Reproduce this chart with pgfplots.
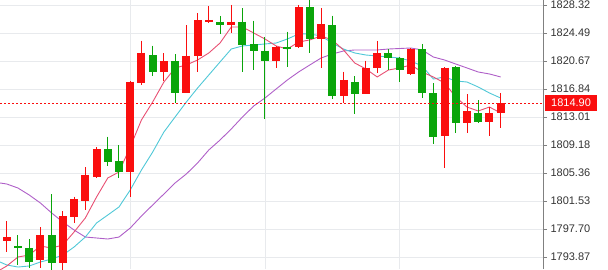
\documentclass[border=0pt]{standalone}
\usepackage{fontspec}
\setmainfont{Liberation Sans}
\usepackage{pgfplots}
\pgfplotsset{compat=1.18}
\usepackage{pgfplotstable}
\definecolor{cred}{RGB}{250,14,14}
\definecolor{cgreen}{RGB}{10,165,10}
\definecolor{mapink}{RGB}{232,80,115}
\definecolor{macyan}{RGB}{80,200,215}
\definecolor{mapurple}{RGB}{175,95,200}
\definecolor{gridc}{RGB}{232,234,237}

\pgfplotstableread{
x o h l c
0 1796.05 1798.79 1794.55 1796.60
3 1793.46 1797.97 1792.36 1796.87
5 1793.05 1800.15 1792.00 1799.47
6 1799.38 1802.11 1798.55 1801.75
7 1801.56 1806.17 1800.29 1805.08
8 1804.84 1808.90 1804.67 1808.63
11 1805.53 1817.93 1802.03 1817.83
12 1817.61 1823.44 1817.38 1821.80
14 1819.20 1821.71 1817.97 1820.66
16 1816.33 1825.58 1816.25 1821.39
17 1821.39 1827.18 1819.20 1826.27
18 1826.03 1828.18 1825.82 1826.27
20 1825.58 1828.32 1824.45 1826.03
24 1820.66 1822.71 1819.66 1822.62
26 1822.54 1828.32 1822.40 1828.00
28 1823.63 1827.87 1819.66 1825.68
30 1815.92 1819.20 1814.88 1818.07
32 1816.15 1820.70 1816.11 1819.75
33 1819.66 1823.40 1818.98 1821.71
36 1818.89 1822.40 1818.75 1822.26
39 1810.41 1819.80 1805.99 1819.75
41 1812.15 1816.15 1810.82 1813.83
43 1812.37 1814.42 1810.41 1813.51
44 1813.51 1816.29 1811.57 1814.90
}\redc

\pgfplotstableread{
x o h l c
1 1795.37 1796.87 1792.77 1795.10
2 1795.10 1796.33 1792.36 1793.18
4 1796.87 1802.48 1792.00 1793.05
9 1808.59 1810.31 1806.31 1806.89
10 1807.03 1809.18 1804.67 1805.53
13 1821.48 1822.75 1818.61 1819.20
15 1820.66 1821.58 1814.96 1816.33
19 1826.03 1826.82 1824.35 1825.58
21 1826.03 1827.87 1819.20 1822.85
22 1822.95 1826.17 1819.43 1822.07
23 1822.07 1823.90 1812.69 1820.66
25 1822.62 1824.67 1819.80 1822.30
27 1828.00 1829.30 1821.80 1823.63
29 1825.58 1826.86 1815.43 1815.88
31 1817.75 1818.61 1813.37 1816.15
34 1821.71 1822.26 1819.43 1821.11
35 1821.03 1821.25 1817.83 1819.43
37 1822.26 1822.99 1815.56 1816.25
38 1816.25 1817.62 1809.32 1810.31
40 1819.88 1819.98 1810.86 1812.23
42 1813.51 1815.33 1812.20 1812.37
}\greenc

\pgfplotstableread{
x y
-0.6 1792.10
0 1792.64
1 1793.87
2 1794.14
3 1795.37
4 1795.10
5 1795.51
6 1797.29
7 1799.20
8 1802.07
9 1804.67
10 1805.49
11 1808.91
12 1812.60
13 1815.06
14 1817.79
15 1819.71
16 1820.12
17 1820.80
18 1821.76
19 1823.12
20 1825.31
21 1825.31
22 1824.49
23 1823.67
24 1822.72
25 1822.30
26 1823.26
27 1823.54
28 1824.08
29 1823.54
30 1822.17
31 1820.39
32 1819.57
33 1818.48
34 1819.43
35 1819.71
36 1820.12
37 1819.16
38 1818.48
39 1817.66
40 1815.74
41 1814.37
42 1813.83
43 1814.37
44 1813.56
}\mapinkt

\pgfplotstableread{
x y
-0.6 1793.19
0 1792.78
1 1792.50
2 1792.64
3 1793.19
4 1793.59
5 1794.14
6 1795.24
7 1796.60
8 1798.52
9 1799.61
10 1800.71
11 1803.03
12 1805.76
13 1808.22
14 1810.96
15 1813.01
16 1815.06
17 1816.97
18 1818.75
19 1820.53
20 1822.30
21 1822.72
22 1822.85
23 1822.99
24 1823.12
25 1823.67
26 1824.36
27 1824.36
28 1824.08
29 1823.12
30 1822.30
31 1821.76
32 1821.48
33 1821.35
34 1821.21
35 1821.07
36 1820.66
37 1819.98
38 1818.20
39 1818.48
40 1817.93
41 1817.79
42 1817.11
43 1816.29
44 1815.60
}\macyant

\pgfplotstableread{
x y
-0.6 1803.99
0 1803.85
1 1803.30
2 1802.35
3 1801.25
4 1799.89
5 1798.65
6 1797.56
7 1796.60
8 1796.47
9 1796.33
10 1796.60
11 1797.83
12 1799.47
13 1800.98
14 1802.48
15 1803.99
16 1805.22
17 1806.72
18 1808.50
19 1809.86
20 1811.37
21 1813.01
22 1814.51
23 1815.60
24 1816.84
25 1818.07
26 1819.16
27 1820.12
28 1821.07
29 1821.62
30 1822.03
31 1822.17
32 1822.17
33 1822.17
34 1822.30
35 1822.37
36 1822.44
37 1822.17
38 1821.21
39 1820.80
40 1820.25
41 1819.71
42 1819.16
43 1818.89
44 1818.48
}\mapurplet

\begin{document}
\begin{tikzpicture}
\begin{axis}[
  width=543pt, height=269pt, scale only axis,
  xmin=-0.6, xmax=47.77, ymin=1792.23, ymax=1829.00,
  axis y line*=right, axis x line*=bottom,
  x axis line style={draw=none},
  y axis line style={draw=black!50, line width=0.8pt},
  xtick={11,23,35}, xticklabels={}, xtick style={draw=none},
  ytick={1793.87,1797.70,1801.53,1805.36,1809.18,1813.01,1816.84,1820.67,1824.49,1828.32},
  yticklabels={1793.87,1797.70,1801.53,1805.36,1809.18,1813.01,1816.84,1820.67,1824.49,1828.32},
  tick align=outside, major tick length=4pt,
  ytick style={draw=black!50, line width=0.8pt},
  grid=major, major grid style={draw=gridc, line width=0.8pt},
  yticklabel style={font=\fontsize{11}{13}\selectfont, text=black!80},
]
\coordinate (SW) at (rel axis cs:0,0);
\coordinate (P0) at (axis cs:-0.6,1814.90);
\coordinate (P) at (axis cs:47.77,1814.90);
\addplot[mapurple, line width=0.9pt, mark=none] table[x=x,y=y] {\mapurplet};
\addplot[macyan, line width=0.9pt, mark=none] table[x=x,y=y] {\macyant};
\addplot[mapink, line width=0.9pt, mark=none] table[x=x,y=y] {\mapinkt};
% wicks
\addplot[forget plot, draw=none, mark=none, error bars/.cd, y dir=minus, y explicit, error mark=none, error bar style={draw=cred, line width=1pt}]
  table[x=x, y=h, y error expr=\thisrow{h}-\thisrow{l}] {\redc};
\addplot[forget plot, draw=none, mark=none, error bars/.cd, y dir=minus, y explicit, error mark=none, error bar style={draw=cgreen, line width=1pt}]
  table[x=x, y=h, y error expr=\thisrow{h}-\thisrow{l}] {\greenc};
% bodies
\addplot[forget plot, draw=none, mark=none, error bars/.cd, y dir=minus, y explicit, error mark=none, error bar style={draw=cred, line width=8pt}]
  table[x=x, y=c, y error expr=\thisrow{c}-\thisrow{o}] {\redc};
\addplot[forget plot, draw=none, mark=none, error bars/.cd, y dir=minus, y explicit, error mark=none, error bar style={draw=cgreen, line width=8pt}]
  table[x=x, y=o, y error expr=\thisrow{o}-\thisrow{c}] {\greenc};
\end{axis}
% last price line, drawn as short red dashes
\foreach \k in {0,...,135}
  \fill[cred] ([xshift=\k*4pt, yshift=-0.5pt]P0) rectangle ++(2.2pt,1pt);
\node[fill=cred, text=white, anchor=west, inner xsep=6pt, inner ysep=0pt, minimum height=16.5pt, font=\fontsize{11}{13}\selectfont] at ([xshift=2pt]P) {1814.90};
\pgfresetboundingbox
\path[use as bounding box] (SW) rectangle ++(608pt,269pt);
\end{tikzpicture}
\end{document}
